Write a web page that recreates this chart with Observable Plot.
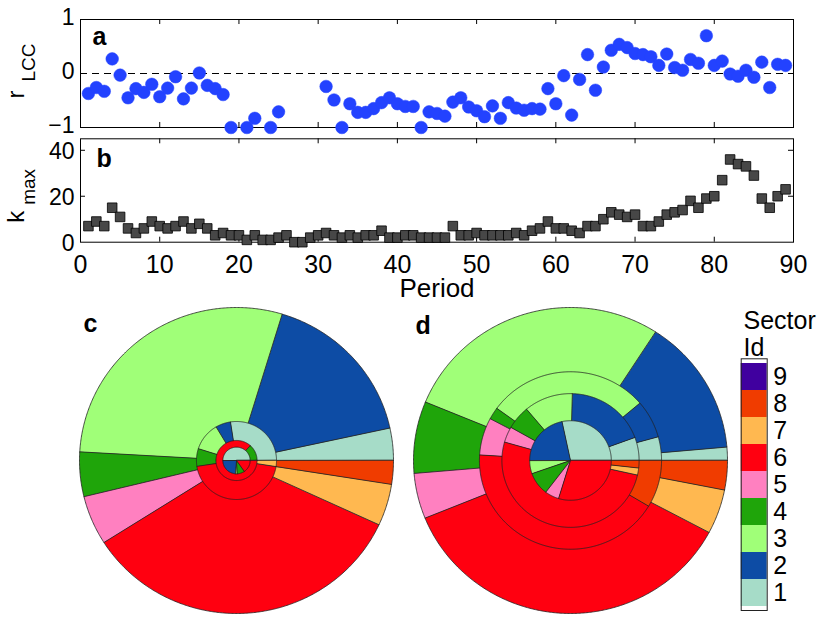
<!DOCTYPE html>
<html><head><meta charset="utf-8">
<script src="https://cdn.jsdelivr.net/npm/d3@7"></script>
<script src="https://cdn.jsdelivr.net/npm/@observablehq/plot@0.6"></script>
<style>
body{margin:0;background:#fff;}
#fig{position:relative;width:822px;height:620px;font-family:"Liberation Sans",Arial,Helvetica,sans-serif;}
#fig > div{position:absolute;}
#fig svg{overflow:visible;background:none;}
</style></head><body><div id="fig"></div>
<script>
// ---------- data ----------
const periods = [1,2,3,4,5,6,7,8,9,10,11,12,13,14,15,16,17,18,19,20,21,22,23,24,25,26,27,28,29,30,31,32,33,34,35,36,37,38,39,40,41,42,43,44,45,46,47,48,49,50,51,52,53,54,55,56,57,58,59,60,61,62,63,64,65,66,67,68,69,70,71,72,73,74,75,76,77,78,79,80,81,82,83,84,85,86,87,88,89];
const rLCC = [-0.37,-0.26,-0.33,0.27,-0.03,-0.45,-0.28,-0.35,-0.20,-0.43,-0.27,-0.06,-0.47,-0.27,0.01,-0.22,-0.28,-0.39,-1,null,-1,-0.83,null,-1,-0.71,null,null,null,null,null,-0.24,-0.49,-1,-0.56,-0.72,-0.72,-0.65,-0.54,-0.45,-0.56,-0.61,-0.61,-1,-0.71,-0.74,-0.79,-0.53,-0.45,-0.62,-0.69,-0.80,-0.60,-0.83,-0.54,-0.64,-0.68,-0.65,-0.66,-0.28,-0.56,-0.04,-0.77,-0.11,0.35,-0.31,0.12,0.43,0.54,0.48,0.37,0.35,0.31,0.15,0.36,0.11,0.06,0.26,0.19,0.70,0.15,0.23,-0.01,-0.05,0.06,-0.07,0.21,-0.26,0.17,0.15];
const kmax = [7,9,7,15,11,6,4,6,9,7,6,7,9,6,8,6,3,4,3,3,1,3,1,1,2,3,0,0,2,3,4,3,2,3,2,3,3,5,2,2,3,3,2,2,2,2,7,3,3,4,3,3,3,3,4,3,5,6,9,6,6,5,4,7,7,10,13,12,11,12,7,7,9,12,13,14,18,15,19,20,27,36,34,33,29,19,15,20,23];

const xTickLabels = [0,10,20,30,40,50,60,70,80,90];
const xInnerTicks = [10,20,30,40,50,60,70,80];
const aYTicks = [-1,0,1];
const bYTicks = [0,20,40];
const bInnerYTicks = [20,40];

const sectorIds = [1,2,3,4,5,6,7,8,9];
const sectorColors = ["#a6dcc8","#0d4ca5","#a0ff78","#1fa50a","#ff80c0","#ff0010","#ffb850","#f03c00","#40009f"];

// nested pies: relative radius of each pie and share (%) of sectors 1..9
const cRadii = [1, 0.255, 0.131, 0.087];
const cShares = [
  [3.4,16.9,28.8,4.7,5.2,34.1,4.4,2.5,0],
  [27.4,6.1,11.6,7.3,0,45.1,2.5,0,0],
  [0,0,0,13.3,0,86.7,0,0,0],
  [50,23.9,1.9,8.9,0,15.3,0,0,0]
];
const dRadii = [1, 0.58, 0.437, 0.26];
const dShares = [
  [1.4,14.5,27.9,7.6,4.8,36.1,4.7,3.1,0],
  [4.3,6.9,28.8,2.2,6.8,42.4,0,8.6,0],
  [5.6,19.0,11.5,5.7,3.8,51.0,1.7,1.8,0],
  [28.3,21.7,5.3,9.3,5.6,29.7,0,0,0]
];

// ---------- helpers ----------
const FONT = "Liberation Sans, Arial, Helvetica, sans-serif";
const fig = document.getElementById("fig");
function place(el, left, top) {
  const d = document.createElement("div");
  d.style.left = left + "px"; d.style.top = top + "px";
  d.appendChild(el); fig.appendChild(d);
}
const colorScale = {type: "ordinal", domain: sectorIds, range: sectorColors};
const intFmt = d => (d < 0 ? "\u2212" : "") + Math.abs(d);

// ---------- panel a ----------
const aData = periods.map((p, i) => ({period: p, r: rLCC[i]})).filter(d => d.r != null);
const pa = Plot.plot({
  width: 822, height: 140,
  marginLeft: 80, marginRight: 29, marginTop: 19, marginBottom: 13,
  style: {fontFamily: FONT, fontSize: "24px", background: "none", overflow: "visible"},
  x: {domain: [0, 90], axis: null},
  y: {domain: [-1, 1], axis: null},
  marks: [
    Plot.frame({stroke: "black", strokeWidth: 1}),
    Plot.ruleX(xInnerTicks, {y1: -1, y2: -1 + 0.093, stroke: "black"}),
    Plot.ruleX(xInnerTicks, {y1: 1, y2: 1 - 0.093, stroke: "black"}),
    Plot.ruleY([0], {strokeDasharray: "7,5", stroke: "black", strokeWidth: 1}),
    Plot.axisY(aYTicks, {tickSize: 0, tickPadding: 6, label: null, tickFormat: intFmt, fontSize: 23, dy: -1.5}),
    Plot.dot(aData, {x: "period", y: "r", r: 6.3, fill: "#2342ff", stroke: "#2342ff", strokeWidth: 0.5}),
    Plot.text(["a"], {text: d => d, frameAnchor: "top-left", textAnchor: "start", lineAnchor: "bottom", dx: 12, dy: 25.3, fontWeight: "bold", fontSize: 25}),
    Plot.text(["r"], {text: d => d, frameAnchor: "top-left", textAnchor: "start", lineAnchor: "bottom", rotate: -90, dx: -57, dy: 79, fontSize: 24}),
    Plot.text(["LCC"], {text: d => d, frameAnchor: "top-left", textAnchor: "start", lineAnchor: "bottom", rotate: -90, dx: -46, dy: 62, fontSize: 19})
  ]
});
place(pa, 0, 0);

// ---------- panel b ----------
const bData = periods.map((p, i) => ({period: p, k: kmax[i]}));
const pb = Plot.plot({
  width: 822, height: 184,
  marginLeft: 80, marginRight: 29, marginTop: 10.3, marginBottom: 70.3,
  style: {fontFamily: FONT, fontSize: "24px", background: "none", overflow: "visible"},
  x: {domain: [0, 90], axis: null},
  y: {domain: [0, 45], axis: null},
  marks: [
    Plot.frame({stroke: "black", strokeWidth: 1}),
    Plot.ruleX(xInnerTicks, {y1: 0, y2: 2.17, stroke: "black"}),
    Plot.ruleX(xInnerTicks, {y1: 45, y2: 45 - 2.17, stroke: "black"}),
    Plot.ruleY(bInnerYTicks, {x1: 0, x2: 0.63, stroke: "black"}),
    Plot.ruleY(bInnerYTicks, {x1: 90, x2: 90 - 0.63, stroke: "black"}),
    Plot.axisY(bYTicks, {tickSize: 0, tickPadding: 6, label: null, tickFormat: intFmt, fontSize: 23, dy: 1.5}),
    Plot.axisX(xTickLabels, {tickSize: 0, tickPadding: 13, label: null, tickFormat: intFmt, fontSize: 25}),
    Plot.dot(bData, {x: "period", y: "k", symbol: "square", r: 5.4, fill: "#474747", stroke: "black", strokeWidth: 0.8}),
    Plot.text(["b"], {text: d => d, frameAnchor: "top-left", textAnchor: "start", lineAnchor: "bottom", dx: 16, dy: 27.7, fontWeight: "bold", fontSize: 25}),
    Plot.text(["Period"], {text: d => d, frameAnchor: "bottom", lineAnchor: "top", dy: 36.5, fontSize: 26}),
    Plot.text(["k"], {text: d => d, frameAnchor: "top-left", textAnchor: "start", lineAnchor: "bottom", rotate: -90, dx: -57, dy: 84, fontSize: 24}),
    Plot.text(["max"], {text: d => d, frameAnchor: "top-left", textAnchor: "start", lineAnchor: "bottom", rotate: -90, dx: -46, dy: 66, fontSize: 19})
  ]
});
place(pb, 0, 128);

// ---------- pies c, d ----------
function piePoints(radii, shares, tag) {
  const pts = [];
  radii.forEach((rad, ri) => {
    const tot = d3.sum(shares[ri]);
    let a = 0;
    shares[ri].forEach((s, si) => {
      if (!s) return;
      const a0 = a, a1 = a + s / tot * 2 * Math.PI;
      a = a1;
      const key = tag + "-" + ri + "-" + si;
      const sector = sectorIds[si];
      pts.push({key, sector, px: 0, py: 0});
      const n = Math.max(2, Math.ceil((a1 - a0) / (Math.PI / 360)));
      for (let k = 0; k <= n; k++) {
        const t = a0 + (a1 - a0) * k / n;
        pts.push({key, sector, px: rad * Math.cos(t), py: rad * Math.sin(t)});
      }
    });
  });
  return pts;
}
function piePlot(radii, shares, tag, letter, ldx, ldy) {
  return Plot.plot({
    width: 314, height: 306, margin: 0,
    style: {fontFamily: FONT, fontSize: "25px", background: "none", overflow: "visible"},
    x: {domain: [-1, 1], axis: null},
    y: {domain: [-1, 1], axis: null},
    color: colorScale,
    marks: [
      Plot.line(piePoints(radii, shares, tag), {x: "px", y: "py", z: "key", fill: "sector", stroke: "#222", strokeWidth: 0.8, curve: "linear-closed"}),
      Plot.text([letter], {text: d => d, frameAnchor: "top-left", textAnchor: "start", lineAnchor: "bottom", dx: ldx, dy: ldy, fontWeight: "bold", fontSize: 25})
    ]
  });
}
place(piePlot(cRadii, cShares, "c", "c", 4, 24), 79, 307);
place(piePlot(dRadii, dShares, "d", "d", 2, 26), 413, 307);

// ---------- legend ----------
const leg = Plot.plot({
  width: 122, height: 325,
  marginLeft: 40.7, marginRight: 55.3, marginTop: 63.3, marginBottom: 10,
  style: {fontFamily: FONT, fontSize: "25px", background: "none", overflow: "visible"},
  x: {axis: null},
  y: {type: "band", domain: sectorIds.slice().reverse(), padding: 0, axis: "right", tickSize: 0, tickPadding: 6, label: null},
  color: colorScale,
  marks: [
    Plot.cell(sectorIds, {y: d => d, fill: d => d}),
    Plot.frame({stroke: "#222", strokeWidth: 1}),
    Plot.text(["Sector\nId"], {text: d => d, frameAnchor: "top-left", textAnchor: "start", lineAnchor: "top", lineHeight: 1.08, dx: 2.3, dy: -49, fontSize: 25})
  ]
});
place(leg, 700, 295);
</script></body></html>
